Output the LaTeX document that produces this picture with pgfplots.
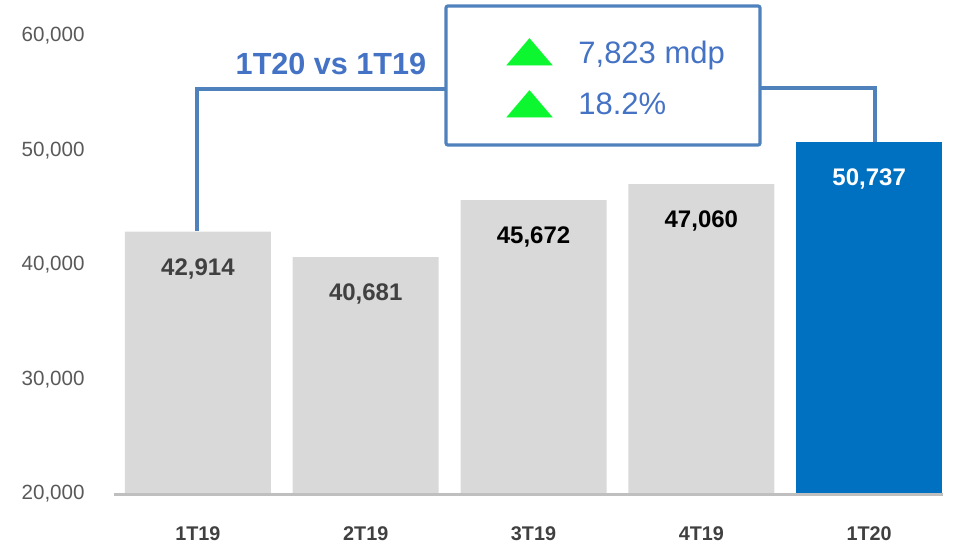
\documentclass[border=0pt]{standalone}
\usepackage{pgfplots}
\pgfplotsset{compat=1.18}
\usepackage{fontspec}
\setmainfont{Liberation Sans}
\newfontfamily\dejavu{DejaVu Sans}
\definecolor{barGray}{HTML}{D9D9D9}
\definecolor{barBlue}{HTML}{0070C0}
\definecolor{lineBlue}{HTML}{4F81BD}
\definecolor{textBlue}{HTML}{4472C4}
\definecolor{upGreen}{HTML}{0CF72F}
\definecolor{tickCol}{HTML}{595959}
\definecolor{labCol}{HTML}{404040}
\definecolor{axisCol}{HTML}{BFBFBF}
\begin{document}
\begin{tikzpicture}
\begin{axis}[
  at={(57pt,26.5pt)}, anchor=south west,
  scale only axis, width=414.5pt, height=229pt,
  xmin=-0.5, xmax=4.44, ymin=20000, ymax=60000,
  axis line style={draw=none},
  ytick={20000,30000,40000,50000,60000},
  scaled y ticks=false,
  xtick={0,1,2,3,4},
  xticklabels={1T19,2T19,3T19,4T19,1T20},
  major tick length=0pt,
  /pgf/number format/1000 sep={,},
  /pgf/number format/assume math mode=true,
  yticklabel style={font=\fontsize{10.3}{12}\selectfont, text=tickCol, anchor=east, inner sep=0pt, xshift=-14.5pt, /pgf/number format/fixed},
  xticklabel style={font=\fontsize{9.9}{11}\selectfont\bfseries, text=labCol, anchor=center, inner sep=0pt, yshift=-20pt},
  ybar, bar width=0.87, bar shift=0pt,
  nodes near coords,
  nodes near coords style={font=\fontsize{12}{14}\selectfont\bfseries, anchor=center, inner sep=0pt, yshift=-18.5pt},
  clip=false,
]
\addplot[fill=barGray, draw=none, nodes near coords style={text=labCol}] coordinates {(0,42914) (1,40681)};
\addplot[fill=barGray, draw=none, nodes near coords style={text=black}] coordinates {(2,45672) (3,47060)};
\addplot[fill=barBlue, draw=none, nodes near coords style={text=white}] coordinates {(4,50737)};
\draw[axisCol, line width=1.5pt] (axis cs:-0.5,20000) -- (axis cs:4.44,20000);
\end{axis}
\begin{scope}[x=0.5pt, y=-0.5pt, shift={(0pt,273.5pt)}]
\draw[lineBlue, line width=1.6pt] (197,231) -- (197,89) -- (446,89);
\draw[lineBlue, line width=1.6pt] (760,88) -- (875,88) -- (875,142);
\draw[lineBlue, line width=1.6pt, fill=white, rounded corners=1pt] (446,6) rectangle (760,145);
\node[text=textBlue, font=\fontsize{15.3}{18}\selectfont\bfseries, inner sep=0pt] at (331,64) {1T20 vs 1T19};
\node[inner sep=0pt] at (529.5,52.5) {\resizebox{23.5pt}{11.5pt}{\color{upGreen}\dejavu ▲}};
\node[inner sep=0pt] at (529.5,104.5) {\resizebox{23.5pt}{11.5pt}{\color{upGreen}\dejavu ▲}};
\node[text=textBlue, font=\fontsize{15.5}{18}\selectfont, inner sep=0pt, anchor=base west] at (578,64) {7,823 mdp};
\node[text=textBlue, font=\fontsize{15.5}{18}\selectfont, inner sep=0pt, anchor=base west] at (578,115) {18.2\%};
\pgfresetboundingbox
\path[use as bounding box] (0,0) rectangle (957,547);
\end{scope}
\end{tikzpicture}
\end{document}
